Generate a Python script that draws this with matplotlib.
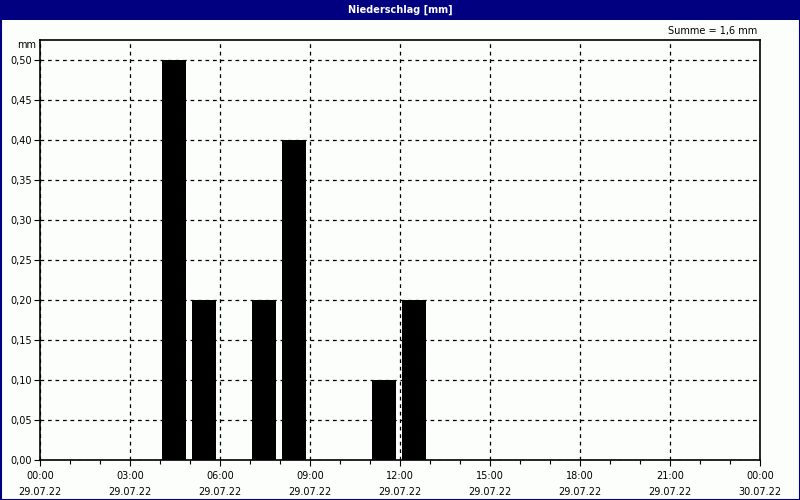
import matplotlib
matplotlib.use("Agg")
import matplotlib.pyplot as plt
from matplotlib.patches import Rectangle
from matplotlib.ticker import FixedLocator, MultipleLocator

# Data
hours = [4.47, 5.47, 7.47, 8.47, 11.47, 12.47]     # bin centres (hours from 29.07.22 00:00)
precip = [0.50, 0.20, 0.20, 0.40, 0.10, 0.20]      # mm
tick_hours = [0, 3, 6, 9, 12, 15, 18, 21, 24]
tick_times = ["00:00", "03:00", "06:00", "09:00", "12:00", "15:00", "18:00", "21:00", "00:00"]
tick_dates = ["29.07.22"] * 8 + ["30.07.22"]
y_ticks = [0.00, 0.05, 0.10, 0.15, 0.20, 0.25, 0.30, 0.35, 0.40, 0.45, 0.50]
title = "Niederschlag [mm]"
summe_text = "Summe = 1,6 mm"

plt.rcParams['font.family'] = ['DejaVu Sans']
fig = plt.figure(figsize=(8, 5), dpi=100, facecolor='#fcfefc')

navy = '#000080'
# title bar and outer frame
fig.patches.append(Rectangle((0, 1 - 20/500), 1, 20/500, transform=fig.transFigure,
                             facecolor=navy, edgecolor='none', zorder=0))
fig.patches.append(Rectangle((0.5/800, 0.5/500), 1 - 1/800, 1 - 1/500, transform=fig.transFigure,
                             facecolor='none', edgecolor=navy, linewidth=1.5, zorder=5))
fig.text(0.5, 1 - 10/500, title, color='white', fontsize=7, fontweight='bold',
         ha='center', va='center')
fig.text(757/800, 1 - 31/500, summe_text, color='black', fontsize=7, ha='right', va='center')

ax = fig.add_axes([40/800, 40/500, 720/800, 420/500])
ax.set_facecolor('#fcfefc')
ax.bar(hours, precip, width=0.8, color='black', zorder=3)
ax.set_xlim(0, 24)
ax.set_ylim(0, 0.525)

ax.xaxis.set_major_locator(FixedLocator(tick_hours))
ax.set_xticklabels([f"{t}\n{d}" for t, d in zip(tick_times, tick_dates)], fontsize=7, linespacing=1.75)
ax.xaxis.set_minor_locator(MultipleLocator(1))
ax.set_yticks(y_ticks)
ax.set_yticklabels([f"{v:.2f}".replace('.', ',') for v in y_ticks], fontsize=7)

ax.tick_params(axis='both', which='major', length=4, width=0.8, color='black', direction='out', pad=2)
ax.tick_params(axis='x', which='major', pad=4)
ax.tick_params(axis='x', which='minor', length=3, width=0.8, direction='out')
ax.grid(True, which='major', linestyle=(0, (3, 3)), color='black', linewidth=0.9, zorder=1)
for s in ax.spines.values():
    s.set_linewidth(1.2)
    s.set_color('black')

fig.text(36/800, 1 - 45/500, "mm", fontsize=7, ha='right', va='center')

fig.savefig("out.png", dpi=100, facecolor=fig.get_facecolor())
